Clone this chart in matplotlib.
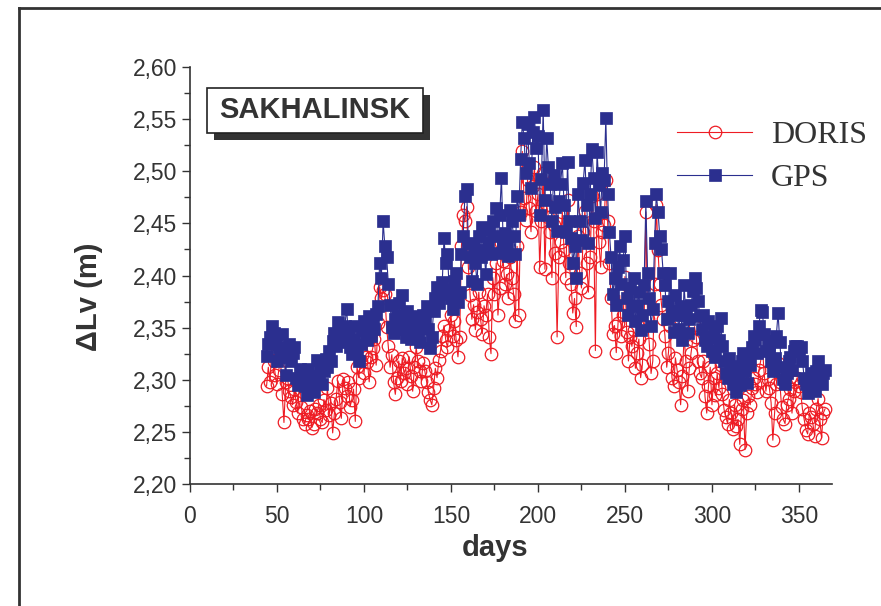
import numpy as np
import matplotlib
matplotlib.use("Agg")
import matplotlib.pyplot as plt
from matplotlib.patches import Rectangle
from matplotlib.lines import Line2D
from matplotlib.ticker import MultipleLocator, FuncFormatter

# Data, one value per day from day 44 to 365
days = np.arange(44, 366)

gps = [
    2.323, 2.334, 2.341, 2.352, 2.345, 2.338, 2.318, 2.331, 2.327, 2.344,
    2.322, 2.305, 2.329, 2.334, 2.318, 2.326, 2.331, 2.302, 2.295, 2.310,
    2.298, 2.302, 2.294, 2.285, 2.310, 2.296, 2.301, 2.288, 2.299, 2.319,
    2.304, 2.311, 2.296, 2.308, 2.320, 2.312, 2.328, 2.318, 2.337, 2.345,
    2.332, 2.355, 2.348, 2.341, 2.336, 2.352, 2.368, 2.344, 2.331, 2.325,
    2.339, 2.352, 2.328, 2.318, 2.334, 2.347, 2.356, 2.349, 2.338, 2.361,
    2.342, 2.355, 2.349, 2.363, 2.371, 2.412, 2.398, 2.452, 2.428, 2.418,
    2.392, 2.372, 2.351, 2.345, 2.358, 2.362, 2.374, 2.349, 2.381, 2.356,
    2.341, 2.366, 2.352, 2.339, 2.348, 2.361, 2.357, 2.344, 2.336, 2.352,
    2.362, 2.358, 2.371, 2.349, 2.330, 2.341, 2.366, 2.378, 2.389, 2.374,
    2.382, 2.394, 2.436, 2.412, 2.421, 2.386, 2.378, 2.368, 2.395, 2.402,
    2.375, 2.384, 2.421, 2.438, 2.476, 2.483, 2.431, 2.418, 2.395, 2.427,
    2.412, 2.392, 2.438, 2.418, 2.447, 2.424, 2.401, 2.432, 2.444, 2.421,
    2.452, 2.438, 2.465, 2.422, 2.458, 2.494, 2.432, 2.441, 2.428, 2.419,
    2.463, 2.452, 2.438, 2.421, 2.476, 2.458, 2.512, 2.547, 2.532, 2.498,
    2.545, 2.508, 2.484, 2.538, 2.552, 2.522, 2.534, 2.458, 2.493, 2.559,
    2.472, 2.532, 2.504, 2.488, 2.452, 2.496, 2.466, 2.443, 2.471, 2.488,
    2.508, 2.468, 2.442, 2.509, 2.452, 2.436, 2.412, 2.428, 2.398, 2.478,
    2.452, 2.434, 2.489, 2.511, 2.468, 2.431, 2.478, 2.521, 2.494, 2.455,
    2.518, 2.487, 2.461, 2.498, 2.492, 2.551, 2.478, 2.442, 2.418, 2.382,
    2.398, 2.372, 2.408, 2.428, 2.392, 2.415, 2.438, 2.378, 2.362, 2.388,
    2.371, 2.398, 2.356, 2.372, 2.384, 2.348, 2.362, 2.391, 2.471, 2.402,
    2.378, 2.352, 2.368, 2.431, 2.478, 2.461, 2.438, 2.425, 2.402, 2.391,
    2.358, 2.376, 2.402, 2.366, 2.346, 2.381, 2.362, 2.349, 2.371, 2.338,
    2.391, 2.362, 2.345, 2.358, 2.372, 2.385, 2.398, 2.388, 2.376, 2.361,
    2.349, 2.362, 2.338, 2.332, 2.356, 2.341, 2.328, 2.346, 2.322, 2.352,
    2.338, 2.359, 2.332, 2.318, 2.306, 2.302, 2.321, 2.313, 2.296, 2.308,
    2.288, 2.302, 2.295, 2.318, 2.326, 2.308, 2.297, 2.322, 2.314, 2.331,
    2.342, 2.338, 2.326, 2.352, 2.367, 2.365, 2.344, 2.328, 2.337, 2.331,
    2.318, 2.308, 2.321, 2.342, 2.364, 2.336, 2.312, 2.301, 2.296, 2.306,
    2.318, 2.322, 2.309, 2.328, 2.332, 2.332, 2.329, 2.331, 2.318, 2.302,
    2.296, 2.287, 2.301, 2.306, 2.294, 2.289, 2.308, 2.318, 2.302, 2.296,
    2.306, 2.309,
]

doris = [
    2.294, 2.312, 2.298, 2.330, 2.318, 2.305, 2.296, 2.309, 2.321, 2.286,
    2.259, 2.298, 2.302, 2.289, 2.283, 2.276, 2.291, 2.279, 2.268, 2.304,
    2.274, 2.262, 2.258, 2.266, 2.262, 2.270, 2.254, 2.258, 2.272, 2.268,
    2.276, 2.262, 2.259, 2.281, 2.271, 2.292, 2.266, 2.278, 2.249, 2.268,
    2.282, 2.299, 2.279, 2.263, 2.301, 2.292, 2.284, 2.298, 2.274, 2.281,
    2.291, 2.260, 2.312, 2.302, 2.318, 2.324, 2.306, 2.322, 2.317, 2.298,
    2.322, 2.330, 2.339, 2.314, 2.354, 2.389, 2.378, 2.386, 2.382, 2.351,
    2.332, 2.312, 2.324, 2.298, 2.286, 2.302, 2.318, 2.299, 2.321, 2.306,
    2.311, 2.296, 2.322, 2.304, 2.289, 2.312, 2.331, 2.318, 2.308, 2.299,
    2.316, 2.308, 2.298, 2.288, 2.281, 2.276, 2.292, 2.311, 2.302, 2.319,
    2.328, 2.342, 2.352, 2.338, 2.331, 2.348, 2.362, 2.342, 2.356, 2.338,
    2.322, 2.341, 2.428, 2.458, 2.452, 2.466, 2.408, 2.381, 2.358, 2.372,
    2.348, 2.365, 2.384, 2.358, 2.344, 2.371, 2.362, 2.382, 2.341, 2.325,
    2.398, 2.382, 2.412, 2.362, 2.388, 2.431, 2.414, 2.392, 2.401, 2.378,
    2.418, 2.398, 2.382, 2.356, 2.428, 2.362, 2.461, 2.519, 2.474, 2.453,
    2.492, 2.465, 2.442, 2.486, 2.504, 2.462, 2.478, 2.408, 2.452, 2.498,
    2.406, 2.468, 2.456, 2.442, 2.398, 2.448, 2.422, 2.341, 2.418, 2.432,
    2.461, 2.424, 2.398, 2.472, 2.412, 2.392, 2.364, 2.378, 2.351, 2.438,
    2.402, 2.388, 2.442, 2.462, 2.412, 2.384, 2.418, 2.476, 2.452, 2.328,
    2.478, 2.432, 2.408, 2.442, 2.448, 2.492, 2.452, 2.412, 2.378, 2.344,
    2.352, 2.326, 2.354, 2.381, 2.342, 2.362, 2.399, 2.346, 2.318, 2.341,
    2.332, 2.348, 2.311, 2.326, 2.339, 2.302, 2.314, 2.352, 2.461, 2.358,
    2.334, 2.306, 2.318, 2.392, 2.468, 2.424, 2.392, 2.372, 2.358, 2.342,
    2.312, 2.326, 2.352, 2.302, 2.294, 2.321, 2.309, 2.298, 2.276, 2.304,
    2.342, 2.318, 2.289, 2.311, 2.326, 2.338, 2.351, 2.341, 2.318, 2.306,
    2.302, 2.318, 2.284, 2.268, 2.294, 2.312, 2.276, 2.302, 2.285, 2.306,
    2.292, 2.314, 2.286, 2.271, 2.264, 2.258, 2.281, 2.268, 2.253, 2.276,
    2.256, 2.262, 2.238, 2.272, 2.281, 2.233, 2.268, 2.284, 2.276, 2.292,
    2.302, 2.296, 2.288, 2.309, 2.318, 2.332, 2.306, 2.289, 2.301, 2.292,
    2.278, 2.242, 2.268, 2.296, 2.316, 2.298, 2.274, 2.262, 2.258, 2.276,
    2.282, 2.291, 2.268, 2.289, 2.298, 2.302, 2.294, 2.288, 2.272, 2.262,
    2.252, 2.248, 2.268, 2.264, 2.258, 2.246, 2.272, 2.282, 2.262, 2.244,
    2.268, 2.272,
]

station = "SAKHALINSK"

plt.rcParams["font.family"] = ["Liberation Sans", "DejaVu Sans"]

W, H = 881, 606
fig = plt.figure(figsize=(W / 100, H / 100), dpi=100)
ax = fig.add_axes([190 / W, 1 - 484 / H, 642 / W, 417 / H])

red = "#ee1c24"
navy = "#2b2f8f"

ax.plot(days, doris, color=red, lw=0.8, marker="o", ms=9, mfc="none",
        mec=red, mew=0.9, label="DORIS", zorder=2)
ax.plot(days, gps, color=navy, lw=0.8, marker="s", ms=8.5, mfc=navy,
        mec=navy, mew=0.5, label="GPS", zorder=3)

ax.set_xlim(0, 369)
ax.set_ylim(2.20, 2.60)
ax.xaxis.set_major_locator(MultipleLocator(50))
ax.xaxis.set_minor_locator(MultipleLocator(25))
ax.yaxis.set_major_locator(MultipleLocator(0.05))
ax.yaxis.set_minor_locator(MultipleLocator(0.025))
ax.yaxis.set_major_formatter(FuncFormatter(lambda v, p: f"{v:.2f}".replace(".", ",")))

for s in ["top", "right"]:
    ax.spines[s].set_visible(False)
for s in ["left", "bottom"]:
    ax.spines[s].set_color("#333333")
    ax.spines[s].set_linewidth(1.2)

ax.tick_params(axis="both", which="major", length=6, width=1, color="#333333",
               labelsize=16.5, labelcolor="#333333")
ax.tick_params(axis="both", which="minor", length=4, width=1, color="#333333")
ax.tick_params(axis="x", which="major", pad=9)
ax.tick_params(axis="y", which="major", pad=3)

ax.set_xlabel("days", fontsize=21, fontweight="bold", color="#333333")
ax.xaxis.set_label_coords(0.475, -0.12)
ax.set_ylabel("ΔLv (m)", fontsize=21, fontweight="bold", color="#333333")
ax.yaxis.set_label_coords(-0.135, 0.45)

leg = ax.legend(loc="upper left", bbox_to_anchor=(677 / W, 1 - 121 / H),
                bbox_transform=fig.transFigure, frameon=False,
                prop={"family": "Liberation Serif", "size": 23},
                handlelength=2.35, handletextpad=0.6, labelspacing=0.42,
                borderpad=0, borderaxespad=0)
for t in leg.get_texts():
    t.set_color("#333333")

# station label box with shadow
bx0, by0, bx1, by1 = 207, 88, 423, 133
fig.patches.append(Rectangle(((bx0 + 7) / W, 1 - (by1 + 7) / H), (bx1 - bx0) / W,
                             (by1 - by0) / H, transform=fig.transFigure,
                             facecolor="#333333", edgecolor="none", zorder=5))
fig.patches.append(Rectangle((bx0 / W, 1 - by1 / H), (bx1 - bx0) / W,
                             (by1 - by0) / H, transform=fig.transFigure,
                             facecolor="white", edgecolor="#222222", lw=1.2, zorder=6))
fig.text((bx0 + bx1) / 2 / W, 1 - (by0 + by1) / 2 / H, station,
         fontsize=21, fontweight="bold",
         color="#333333", ha="center", va="center", zorder=7)

# outer frame (top and left edges)
fig.add_artist(Line2D([19 / W, 1], [1 - 8 / H, 1 - 8 / H], transform=fig.transFigure,
                      color="#333333", lw=2))
fig.add_artist(Line2D([19 / W, 19 / W], [0, 1 - 8 / H], transform=fig.transFigure,
                      color="#333333", lw=2))

fig.savefig("out.png", dpi=100)
